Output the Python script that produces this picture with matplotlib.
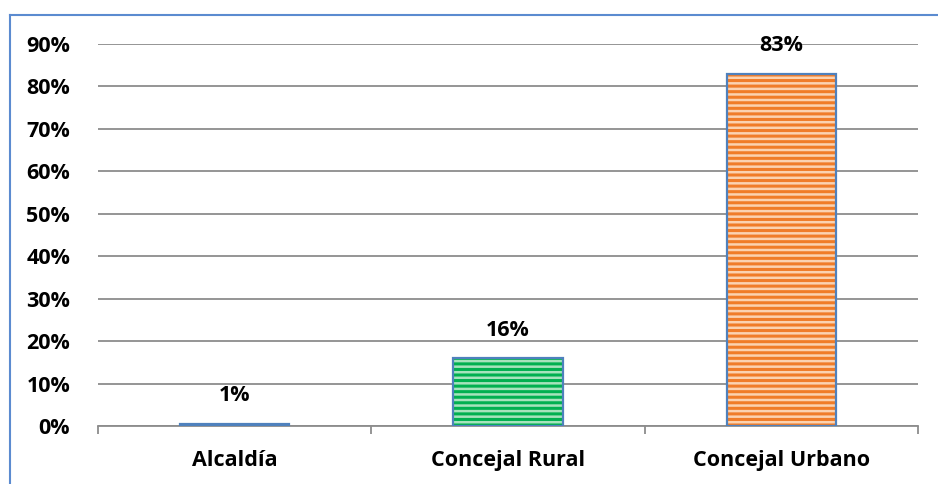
import matplotlib.pyplot as plt
from matplotlib.lines import Line2D
from matplotlib.colors import to_rgba
from matplotlib.ticker import PercentFormatter, FixedLocator

categories = ['Alcaldía', 'Concejal Rural', 'Concejal Urbano']
values = [0.0055, 0.16, 0.83]
face_colors = ['#4F81BD', '#A6E3BC', '#FBD2B0']
stripe_colors = ['#4F81BD', '#00B050', '#F07C28']
yticks = [0, 0.1, 0.2, 0.3, 0.4, 0.5, 0.6, 0.7, 0.8, 0.9]

plt.rcParams['font.family'] = ['Open Sans', 'DejaVu Sans']
plt.rcParams['hatch.linewidth'] = 2.2

FS = 15.5

fig = plt.figure(figsize=(9.38, 4.84), dpi=100)
ax = fig.add_axes([98 / 938, 1 - 426 / 484, 820 / 938, 382 / 484])

x = list(range(len(categories)))
bars = ax.bar(x, values, width=0.40, color=face_colors, edgecolor='#4F81BD',
              linewidth=1.6, zorder=3)
for b, sc in zip(bars, stripe_colors):
    b.set_hatch('---')
    b._hatch_color = to_rgba(sc)

for b, v in zip(bars, values):
    ax.annotate('{:.0%}'.format(v), (b.get_x() + b.get_width() / 2, v),
                xytext=(0, 28), textcoords='offset pixels', ha='center', va='center',
                fontsize=FS, fontweight='bold', color='black', zorder=5)

ax.set_xlim(-0.5, 2.5)
ax.set_ylim(0, 0.9)
ax.yaxis.set_major_locator(FixedLocator(yticks))
ax.yaxis.set_major_formatter(PercentFormatter(1.0, decimals=0))
ax.yaxis.grid(True, color='#8C8C8C', linewidth=1.3, zorder=0)
ax.set_axisbelow(True)

ax.set_xticks(x)
ax.set_xticklabels(categories)
ax.set_xticks([-0.5, 0.5, 1.5, 2.5], minor=True)
ax.tick_params(axis='x', which='major', length=0, pad=17)
ax.tick_params(axis='x', which='minor', length=6, width=1.3, color='#8C8C8C')
ax.tick_params(axis='y', length=0, pad=20)
for lbl in ax.get_xticklabels() + ax.get_yticklabels():
    lbl.set_fontsize(FS)
    lbl.set_fontweight('bold')

for s in ['left', 'right', 'top']:
    ax.spines[s].set_visible(False)
ax.spines['bottom'].set_color('#8C8C8C')
ax.spines['bottom'].set_linewidth(1.3)

# outer chart border (left and top edges visible)
fig.add_artist(Line2D([9.5 / 938, 9.5 / 938], [0, 1 - 14.5 / 484], color='#5B8BD0', lw=1.5))
fig.add_artist(Line2D([9.5 / 938, 1], [1 - 14.5 / 484, 1 - 14.5 / 484], color='#5B8BD0', lw=1.5))

fig.savefig('out.png', dpi=100)
